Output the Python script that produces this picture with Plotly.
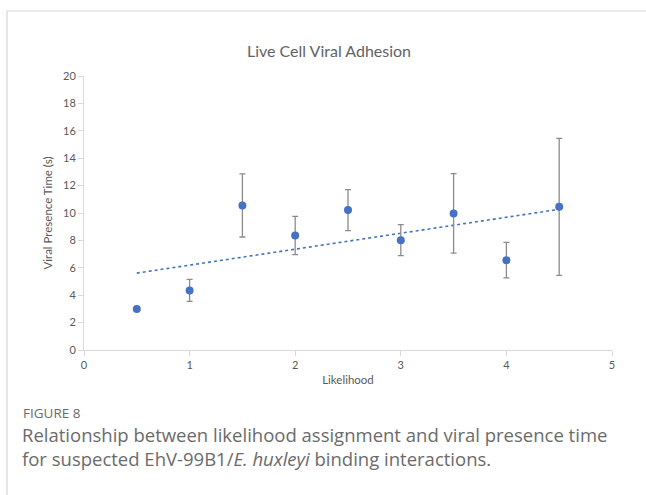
import numpy as np
import plotly.graph_objects as go

# ---- data ----
likelihood = [0.5, 1.0, 1.5, 2.0, 2.5, 3.0, 3.5, 4.0, 4.5]
presence_time = [3.0, 4.35, 10.55, 8.36, 10.21, 8.02, 9.97, 6.56, 10.45]
error = [0.0, 0.8, 2.3, 1.4, 1.5, 1.13, 2.9, 1.3, 5.0]

x_ticks = [0, 1, 2, 3, 4, 5]
y_ticks = [0, 2, 4, 6, 8, 10, 12, 14, 16, 18, 20]

title_text = "Live Cell Viral Adhesion"
x_title = "Likelihood"
y_title = "Viral Presence Time (s)"
fig_label = "FIGURE 8"
caption = ("Relationship between likelihood assignment and viral presence time<br>"
           "for suspected EhV-99B1/<i>E. huxleyi</i> binding interactions.")

# ---- layout geometry (pixels) ----
W, H = 646, 495
L, R, T, B = 84, 34, 76, 145
pw, ph = W - L - R, H - T - B


def px(xp):
    return (xp - L) / pw


def py(yp):
    return (H - B - yp) / ph


# linear trendline (least squares) from the data
slope, intercept = np.polyfit(likelihood, presence_time, 1)
trend_x = [min(likelihood), max(likelihood)]
trend_y = [slope * v + intercept for v in trend_x]

chart_font = "Lato, Open Sans, sans-serif"
cap_font = "Open Sans, Lato, sans-serif"

fig = go.Figure()
fig.add_trace(go.Scatter(
    x=trend_x, y=trend_y, mode="lines",
    line=dict(color="#4472C4", width=1.6, dash="dot"),
    hoverinfo="skip", showlegend=False,
))
fig.add_trace(go.Scatter(
    x=likelihood, y=presence_time, mode="markers",
    marker=dict(color="#4472C4", size=8),
    error_y=dict(type="data", array=error, visible=True,
                 color="#8c8c8c", thickness=1.3, width=3),
    showlegend=False,
))

axis_common = dict(
    showgrid=False, zeroline=False, showline=True, linecolor="#d9d9d9",
    linewidth=1, ticks="outside", tickcolor="#d9d9d9", ticklen=5,
    tickfont=dict(family=chart_font, size=11, color="#595959"),
    title_font=dict(family=chart_font, size=11.5, color="#595959"),
)

fig.update_layout(
    width=W, height=H,
    margin=dict(l=L, r=R, t=T, b=B),
    paper_bgcolor="white", plot_bgcolor="white",
    xaxis=dict(range=[0, 5], tickvals=x_ticks, title=dict(text=x_title, standoff=5),
               **axis_common),
    yaxis=dict(range=[0, 20], tickvals=y_ticks, title=dict(text=y_title, standoff=8),
               **axis_common),
    title=dict(text=title_text, x=329 / W, xanchor="center", y=1 - 51 / H, yanchor="middle",
               font=dict(family=chart_font, size=16, color="#636363")),
    shapes=[
        dict(type="line", xref="paper", yref="paper",
             x0=px(7), x1=px(W + 5), y0=py(11), y1=py(11),
             line=dict(color="#d6d6d6", width=1.2)),
        dict(type="line", xref="paper", yref="paper",
             x0=px(7), x1=px(7), y0=py(11), y1=py(H + 5),
             line=dict(color="#d6d6d6", width=1.2)),
    ],
    annotations=[
        dict(text=fig_label, xref="paper", yref="paper", x=px(21), y=py(413),
             xanchor="left", yanchor="middle", showarrow=False,
             font=dict(family=cap_font, size=13.5, color="#6b6b6b")),
        dict(text=caption, xref="paper", yref="paper", x=px(20), y=py(446),
             xanchor="left", yanchor="middle", showarrow=False, align="left",
             font=dict(family=cap_font, size=18.5, color="#6b6b6b")),
    ],
)

fig.write_html("out.html")
